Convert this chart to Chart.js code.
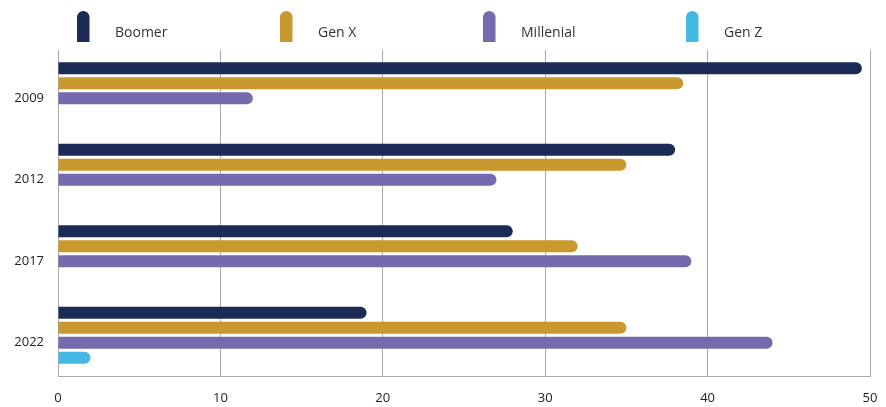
<!DOCTYPE html>
<html>
<head>
<meta charset="utf-8">
<script src="https://cdn.jsdelivr.net/npm/chart.js@4/dist/chart.umd.min.js"></script>
<style>
  html, body { margin: 0; padding: 0; background: #fff; }
  #wrap { width: 886px; height: 407px; }
</style>
</head>
<body>
<div id="wrap"><canvas id="genChart"></canvas></div>
<script>
const years = ['2009', '2012', '2017', '2022'];
const boomer = [49.5, 38, 28, 19];
const genX = [38.5, 35, 32, 35];
const millenial = [12, 27, 39, 44];
const genZ = [null, null, null, 2];
const xTicks = [0, 10, 20, 30, 40, 50];

const seriesNames = ['Boomer', 'Gen X', 'Millenial', 'Gen Z'];
const seriesColors = ['#1b2b56', '#c9982f', '#766aae', '#45b8e6'];
const gridColor = '#a8a8a8';

// legend: a rounded pill per series followed by its name
const pillLegend = {
    id: 'pillLegend',
    afterDraw(chart) {
        const ctx = chart.ctx;
        ctx.save();
        chart.data.datasets.forEach((ds, i) => {
            const x = 77 + i * 203;
            ctx.fillStyle = ds.backgroundColor;
            ctx.beginPath();
            ctx.roundRect(x, 11, 12.5, 31, [6.25, 6.25, 0, 0]);
            ctx.fill();
            ctx.fillStyle = '#333';
            ctx.font = '14px "Open Sans"';
            ctx.textBaseline = 'middle';
            ctx.fillText(ds.label, x + 38, 33);
        });
        ctx.restore();
    }
};

const seriesData = [boomer, genX, millenial, genZ];

new Chart(document.getElementById('genChart'), {
    type: 'bar',
    data: {
        labels: years,
        datasets: seriesData.map((d, i) => ({
            label: seriesNames[i],
            data: d,
            backgroundColor: seriesColors[i],
            borderRadius: { topRight: 6, bottomRight: 6 },
            borderSkipped: false,
            categoryPercentage: 0.736,
            barPercentage: 0.8
        }))
    },
    options: {
        indexAxis: 'y',
        responsive: true,
        maintainAspectRatio: false,
        animation: false,
        layout: { padding: { top: 50, right: 16, left: 0, bottom: 0 } },
        plugins: {
            legend: { display: false },
            tooltip: { enabled: false }
        },
        scales: {
            x: {
                min: 0,
                max: 50,
                afterBuildTicks: s => { s.ticks = xTicks.map(v => ({ value: v })); },
                afterFit: s => {
                    s.height = 31;
                    s.paddingLeft = 0;
                    s.paddingRight = 0;
                },
                grid: { color: gridColor, drawTicks: false },
                border: { color: gridColor },
                ticks: { color: '#222', font: { family: 'Open Sans', size: 13 }, padding: 14 }
            },
            y: {
                afterFit: s => { s.width = 58; },
                grid: { display: false, drawTicks: false },
                border: { display: true, color: gridColor },
                ticks: {
                    color: '#222',
                    font: { family: 'Open Sans', size: 13 },
                    padding: 14,
                    labelOffset: 7.5
                }
            }
        }
    },
    plugins: [pillLegend]
});
</script>
</body>
</html>
